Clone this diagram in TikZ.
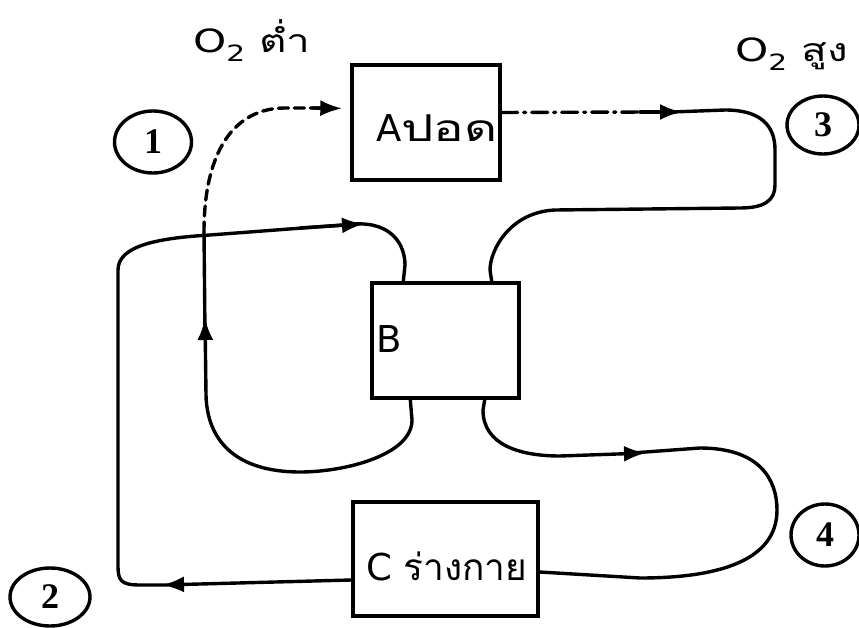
\documentclass[tikz,border=0pt]{standalone}
\usepackage{fontspec}
\setmainfont{DejaVu Sans}
\newfontfamily\thaifont[Script=Thai]{Loma}
\newfontfamily\numfont{Liberation Serif}
\usetikzlibrary{shapes.geometric,arrows.meta,calc}
\tikzset{
  box/.style={draw, line width=3.4pt, rectangle, inner sep=0pt},
  lbl/.style={inner sep=0pt, font=\fontsize{37}{42}\selectfont},
  toplbl/.style={inner sep=0pt, font=\fontsize{32}{36}\selectfont},
  num/.style={draw, ellipse, line width=3.4pt, inner sep=0pt, font=\numfont\bfseries\fontsize{36}{38}\selectfont},
  flow/.style={line width=3.4pt, line cap=round, line join=round},
  tip/.style={-{Latex[length=22pt,width=16pt]}},
  dsh/.style={dash pattern=on 10pt off 6pt},
  dshdot/.style={dash pattern=on 16pt off 6pt on 2pt off 6pt},
}
\begin{document}
\begin{tikzpicture}[x=1pt,y=-1pt]
\useasboundingbox (0,0) rectangle (859,628);
\fill[white] (0,0) rectangle (859,628);
% boxes
\node[box, minimum width=148pt, minimum height=115pt] (A) at (426,122.5) {};
\node[box, minimum width=147pt, minimum height=115pt] (B) at (445.5,340.5) {};
\node[box, minimum width=185pt, minimum height=114pt] (C) at (445.5,559) {};
\node[lbl, anchor=base west] (Atext) at (376,142) {A\scalebox{1.38}[1]{\thaifont ปอด}};
\node[lbl, anchor=base west] (Btext) at (376,352) {B};
\node[lbl, anchor=base west] (Ctext) at (366,580) {C {\thaifont ร่างกาย}};
% labels top
\node[toplbl, anchor=base west] (lo) at (193,53) {\scalebox{1.32}[1]{O\textsubscript{2} {\thaifont ต่ำ}}};
\node[toplbl, anchor=base west] (hi) at (735,62) {\scalebox{1.32}[1]{O\textsubscript{2} {\thaifont สูง}}};
% numbered circles
\node[num, minimum width=77pt, minimum height=62pt] (n1) at (153,142) {1};
\node[num, minimum width=80pt, minimum height=58pt] (n2) at (50,597) {2};
\node[num, minimum width=72pt, minimum height=58pt] (n3) at (823,125) {3};
\node[num, minimum width=68pt, minimum height=62pt] (n4) at (825,535) {4};
% path 1: B -> 1 -> A
\draw[flow, tip] ([xshift=40pt]B.south west) -- (412,420)
  .. controls (412,455) and (345,472) .. (300,472)
  .. controls (235,472) and (207,440) .. (206,395) -- (205,318);
\draw[flow] (205,334) -- (204,232);
\draw[flow, dsh] (204,232) .. controls (204,150) and (235,108) .. (285,108) -- (320,108);
\draw[flow, tip, shorten >=8pt] (312,108) -- ([yshift=14pt]A.west);
% path 2: C -> 2 -> B
\draw[flow, tip] ([yshift=-21pt]C.west) -- (162,585);
\draw[flow] (168,585) -- (140,585) .. controls (120,585) and (118,580) .. (118,565)
  -- (118,270) .. controls (118,245) and (160,238) .. (210,235) -- (355,224);
\draw[tip, flow] (300,228) -- (364,224);
\draw[flow] (355,224) .. controls (392,222) and (405,245) .. (405,265) -- ([xshift=33pt]B.north west);
% path 3: A -> 3 -> B
\draw[flow, dshdot] ([yshift=10pt]A.east) -- (650,112);
\draw[flow, tip] (640,112) -- (682,112);
\draw[flow] (672,112) -- (725,110) .. controls (760,110) and (775,125) .. (775,150)
  -- (775,185) .. controls (775,200) and (765,208) .. (740,208) -- (555,210)
  .. controls (510,212) and (490,250) .. (490,270) -- ([xshift=-29pt]B.north east);
% path 4: B -> 4 -> C
\draw[flow, tip] ([xshift=-36pt]B.south east) -- (483,410)
  .. controls (483,445) and (520,456) .. (560,456) -- (646,453);
\draw[flow] (632,453) -- (700,448) .. controls (760,448) and (777,480) .. (777,510)
  .. controls (777,560) and (720,578) .. (640,578) -- ([yshift=-13pt]C.east);
\end{tikzpicture}
\end{document}
